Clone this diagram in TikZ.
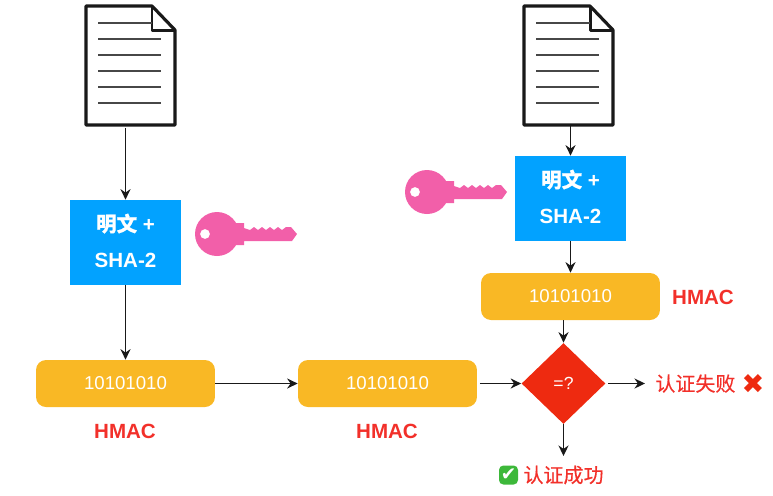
\documentclass[tikz,border=0pt]{standalone}
\usepackage{fontspec}
\setmainfont{Liberation Sans}
\newfontfamily\cjk[FakeBold=0.35]{Noto Sans CJK SC}
\newfontfamily\symb{DejaVu Sans}
\usepackage{xcolor}
\usetikzlibrary{shapes.geometric,arrows.meta}
\definecolor{shablue}{HTML}{02A2FF}
\definecolor{pillyel}{HTML}{F9B825}
\definecolor{dialred}{HTML}{EE2A10}
\definecolor{txtred}{HTML}{F2302A}
\definecolor{keypink}{HTML}{F25FA9}
\definecolor{okgreen}{HTML}{3DB83A}
\tikzset{
  shabox/.style={fill=shablue,text=white,minimum width=2.22cm,minimum height=1.7cm,inner sep=0pt,
    align=center,text depth=2.3pt,font=\fontsize{11.7}{20.4}\selectfont\bfseries},
  pill/.style={fill=pillyel,text=white,rounded corners=0.2cm,minimum width=3.58cm,minimum height=0.94cm,
    inner sep=0pt,font=\fontsize{10.6}{12}\selectfont},
  hmaclbl/.style={text=txtred,font=\fontsize{11.7}{14}\selectfont\bfseries},
  verdict/.style={text=txtred,font=\fontsize{11.4}{14}\selectfont\cjk},
  docnode/.style={minimum width=1.78cm,minimum height=2.38cm,inner sep=0pt},
  link/.style={-{Stealth[length=2.1mm,width=2mm]},line width=1pt,black!90,shorten <=1.5pt}
}
\begin{document}
\begin{tikzpicture}[x=0.02cm,y=-0.02cm]
  \useasboundingbox (0,0) rectangle (773,495);
  % documents
  \foreach \n/\x in {docl/86,docr/524}{
    \node[docnode] (\n) at (\x+44.5,65.5) {};
    \begin{scope}[shift={(\x,0)}]
      \draw[line width=1.8pt,line join=round,black!90] (0,6) -- (66,6) -- (89,30) -- (89,125) -- (0,125) -- cycle;
      \draw[line width=1.7pt,line join=round,black!90] (66,6) -- (66,30) -- (89,30);
      \draw[line width=1.3pt,black!72] (12,23) -- (66,23);
      \foreach \y in {39,55,71,87,103}
        \draw[line width=1.3pt,black!72] (12,\y) -- (75,\y);
    \end{scope}
  }
  % keys
  \foreach \x/\y in {217/234,427/192}{
    \begin{scope}[shift={(\x,\y)}]
      \fill[keypink,even odd rule] (0,0) circle (22) (-12,0) circle (5);
      \fill[keypink] (18,-11) -- (27,-11) -- (27,-6) -- (33,-4) -- (37,-7) -- (41,-4) -- (45,-7) -- (49,-4)
        -- (53,-7) -- (57,-4) -- (61,-7) -- (65,-4) -- (69,-7) -- (74,-7) -- (80,0) -- (75,7)
        -- (27,7) -- (27,11) -- (18,11) -- cycle;
    \end{scope}
  }
  % boxes
  \node[shabox] (shal) at (125.5,242.5) {{\cjk 明文} +\\SHA-2};
  \node[shabox] (shar) at (570.5,198.5) {{\cjk 明文} +\\SHA-2};
  \node[pill] (pilla) at (125.5,383.5) {10101010};
  \node[pill] (pillb) at (387.5,383.5) {10101010};
  \node[pill] (pillc) at (570.5,296.5) {10101010};
  \node[hmaclbl] (hmaca) at (125,431) {HMAC};
  \node[hmaclbl] (hmacb) at (387,431) {HMAC};
  \node[hmaclbl] (hmacc) at (703,297) {HMAC};
  \node[diamond,fill=dialred,text=white,inner sep=0pt,minimum width=1.68cm,minimum height=1.62cm,
    font=\fontsize{10}{12}\selectfont] (dia) at (563.5,383.5) {=?};
  % results
  \node[verdict,anchor=west,inner sep=0pt] (fail) at (655,383.5) {认证失败};
  \node[text=dialred,font=\fontsize{15.5}{16}\selectfont\symb,inner sep=0pt] (cross) at (753,383.5) {✖};
  \node[verdict,inner sep=0pt] (okay) at (563.5,475) {认证成功};
  \node[fill=okgreen,text=white,rounded corners=2.5pt,minimum size=0.38cm,inner sep=0pt,
    font=\fontsize{10.5}{10}\selectfont\symb] (tick) at (508.5,475) {✔};
  \coordinate (failend) at (645,383.5);
  \coordinate (okend) at (563.5,456);
  % connectors
  \draw[link] (docl.south -| shal.north) -- (shal.north);
  \draw[link,shorten <=0pt] (docr.south -| shar.north) -- (shar.north);
  \draw[link,shorten <=0pt] (shal.south) -- (pilla.north);
  \draw[link,shorten <=0pt] (shar.south) -- (pillc.north);
  \draw[link,shorten <=0pt] (pilla.east) -- (pillb.west);
  \draw[link] (pillb.east) -- (dia.west);
  \draw[link,shorten <=0pt] (pillc.south -| dia.north) -- (dia.north);
  \draw[link] (dia.east) -- (failend);
  \draw[link,shorten <=0pt] (dia.south) -- (okend);
\end{tikzpicture}
\end{document}
